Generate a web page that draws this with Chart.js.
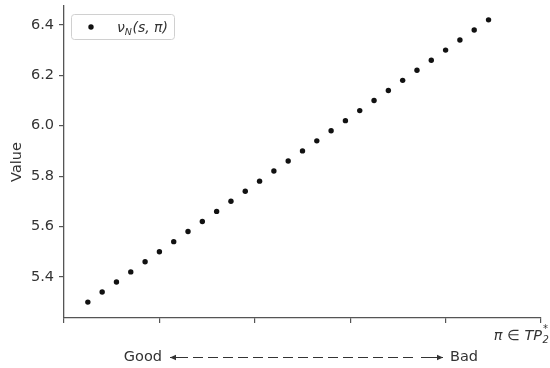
<!DOCTYPE html>
<html>
<head>
<meta charset="utf-8">
<script src="https://cdn.jsdelivr.net/npm/chart.js@4/dist/chart.umd.min.js"></script>
<style>
html,body{margin:0;padding:0;background:#fff;}
canvas{display:block;}
</style>
</head>
<body>
<canvas id="c" width="550" height="368"></canvas>
<script>
const xValues = [0.25,0.40,0.55,0.70,0.85,1.00,1.15,1.30,1.45,1.60,1.75,1.90,2.05,2.20,2.35,2.50,2.65,2.80,2.95,3.10,3.25,3.40,3.55,3.70,3.85,4.00,4.15,4.30,4.45];
const yValues = [5.30,5.34,5.38,5.42,5.46,5.50,5.54,5.58,5.62,5.66,5.70,5.74,5.78,5.82,5.86,5.90,5.94,5.98,6.02,6.06,6.10,6.14,6.18,6.22,6.26,6.30,6.34,6.38,6.42];
const yTicks = [5.4,5.6,5.8,6.0,6.2,6.4];
const xTicks = [0,1,2,3,4,5];
const seriesName = 'ν';
const yTitle = 'Value';

const FONT = 'DejaVu Sans';
const FS = 14.5;
const AXIS = '#555';
const TXT = '#333';

const extras = {
  id: 'extras',
  afterDraw(chart) {
    const ctx = chart.ctx;
    const ca = chart.chartArea;
    ctx.save();
    // legend box
    const lx = ca.left + 7, ly = ca.top + 8, lw = 103, lh = 25;
    ctx.beginPath();
    ctx.roundRect(lx + 0.5, ly + 0.5, lw, lh, 3);
    ctx.fillStyle = 'rgba(255,255,255,0.8)';
    ctx.fill();
    ctx.strokeStyle = '#d0d0d0';
    ctx.lineWidth = 1;
    ctx.stroke();
    ctx.beginPath();
    ctx.arc(lx + 20, ly + 13, 2.7, 0, Math.PI * 2);
    ctx.fillStyle = '#111';
    ctx.fill();
    ctx.fillStyle = TXT;
    ctx.textBaseline = 'alphabetic';
    ctx.textAlign = 'left';
    let tx = lx + 46;
    const by = ly + 18;
    ctx.font = 'italic 14px ' + FONT;
    ctx.fillText(seriesName, tx, by);
    tx += ctx.measureText(seriesName).width;
    ctx.font = 'italic 9.5px ' + FONT;
    ctx.fillText('N', tx, by + 2.5);
    tx += ctx.measureText('N').width + 0.5;
    ctx.font = 'italic 14px ' + FONT;
    ctx.fillText('(s, π)', tx, by);

    // x label
    const xr = ca.right + 1;
    const xb = ca.bottom + 22;
    ctx.font = 'italic ' + FS + 'px ' + FONT;
    ctx.textAlign = 'right';
    ctx.fillText('π ∈ TP', xr, xb);
    ctx.textAlign = 'left';
    ctx.font = 'italic 10px ' + FONT;
    ctx.fillText('2', xr + 0.5, xb + 3);
    ctx.font = '10px ' + FONT;
    ctx.fillText('*', xr + 1, xb - 8);

    // Good / Bad arrow
    const gy = ca.bottom + 39;
    ctx.font = FS + 'px ' + FONT;
    ctx.textBaseline = 'middle';
    ctx.textAlign = 'right';
    ctx.fillText('Good', 162, gy);
    ctx.textAlign = 'left';
    ctx.fillText('Bad', 450, gy);
    const ax1 = 170, ax2 = 443;
    ctx.strokeStyle = TXT;
    ctx.lineWidth = 1.2;
    ctx.setLineDash([10, 5]);
    ctx.beginPath();
    ctx.moveTo(ax1 + 23, gy + 0.5);
    ctx.lineTo(ax2 - 27, gy + 0.5);
    ctx.stroke();
    ctx.setLineDash([]);
    ctx.beginPath();
    ctx.moveTo(ax1, gy + 0.5); ctx.lineTo(ax1 + 18, gy + 0.5);
    ctx.moveTo(ax2, gy + 0.5); ctx.lineTo(ax2 - 22, gy + 0.5);
    ctx.stroke();
    ctx.fillStyle = TXT;
    ctx.beginPath();
    ctx.moveTo(ax1, gy + 0.5); ctx.lineTo(ax1 + 6, gy - 2.2); ctx.lineTo(ax1 + 6, gy + 3.2); ctx.closePath();
    ctx.fill();
    ctx.beginPath();
    ctx.moveTo(ax2, gy + 0.5); ctx.lineTo(ax2 - 6, gy - 2.2); ctx.lineTo(ax2 - 6, gy + 3.2); ctx.closePath();
    ctx.fill();
    ctx.restore();
  }
};

new Chart(document.getElementById('c'), {
  type: 'scatter',
  data: {
    datasets: [{
      label: 'vN(s, π)',
      data: xValues.map((x, i) => ({x: x, y: yValues[i]})),
      backgroundColor: '#111',
      borderColor: '#111',
      pointRadius: 2.7,
      pointHoverRadius: 2.7,
      borderWidth: 0
    }]
  },
  options: {
    responsive: false,
    animation: false,
    devicePixelRatio: 1,
    layout: {padding: {left: 0, right: 9, top: 6, bottom: 0}},
    plugins: {legend: {display: false}, tooltip: {enabled: false}},
    scales: {
      x: {
        type: 'linear',
        min: 0, max: 5,
        afterBuildTicks(s) { s.ticks = xTicks.map(v => ({value: v})); },
        afterFit(s) { s.height = 50; s.paddingLeft = 0; s.paddingRight = 0; },
        grid: {display: true, drawOnChartArea: false, drawTicks: true, tickLength: 5, color: AXIS, lineWidth: 1.2},
        border: {display: true, color: AXIS, width: 1.3},
        ticks: {display: false}
      },
      y: {
        type: 'linear',
        min: 5.237, max: 6.475,
        afterBuildTicks(s) { s.ticks = yTicks.map(v => ({value: v})); },
        afterFit(s) { s.width = 64; s.paddingTop = 0; s.paddingBottom = 0; },
        grid: {display: true, drawOnChartArea: false, drawTicks: true, tickLength: 5, color: AXIS, lineWidth: 1.2},
        border: {display: true, color: AXIS, width: 1.3},
        ticks: {
          color: TXT, padding: 5,
          font: {family: FONT, size: FS},
          callback: v => Number(v).toFixed(1)
        },
        title: {display: true, text: yTitle, color: TXT, font: {family: FONT, size: FS}, padding: {top: 9, bottom: 0}}
      }
    }
  },
  plugins: [extras]
});
</script>
</body>
</html>
